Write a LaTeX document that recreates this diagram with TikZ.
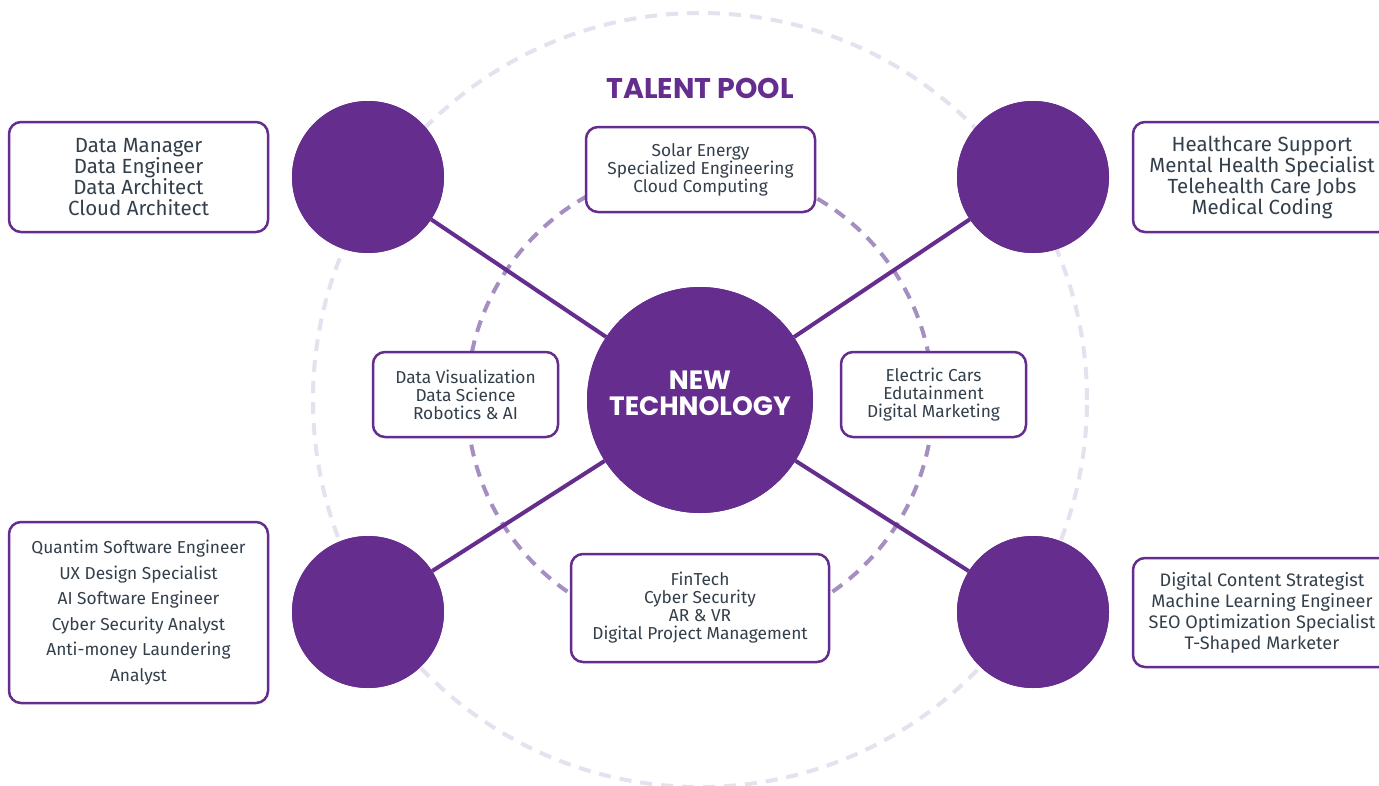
\documentclass[tikz,border=0pt]{standalone}
\usepackage{fontspec}
\setmainfont{Fira Sans}
\newfontfamily\headfont{Poppins}
\definecolor{brand}{HTML}{652D8E}
\definecolor{ringin}{HTML}{A58FC2}
\definecolor{ringout}{HTML}{E6E0EF}
\definecolor{ink}{HTML}{333F4B}
\begin{document}
\begin{tikzpicture}[x=1pt,y=-1pt,
  hub/.style={circle,fill=brand,minimum size=226pt,inner sep=0pt},
  sat/.style={circle,fill=brand,minimum size=152pt,inner sep=0pt},
  spoke/.style={draw=brand,line width=4pt},
  jobbox/.style={draw=brand,line width=2.5pt,fill=white,rounded corners=12pt,
    align=center,text=ink,inner sep=0pt},
  small/.style={font=\fontsize{17.3}{18}\selectfont},
  large/.style={font=\fontsize{20.5}{21}\selectfont},
  snug/.style={font=\fontsize{18.1}{21}\selectfont},
  roomy/.style={font=\fontsize{17.3}{25.5}\selectfont},
  ring/.style={line width=4pt,dash pattern=on 12pt off 9pt}]
\clip (0,0) rectangle (1379,785);
\fill[white] (0,0) rectangle (1379,785);
% talent pool rings
\draw[ring,ringout] (700,400) circle [radius=387pt];
\draw[ring,ringin] (700,400) circle [radius=233pt];
% hub and satellites
\node[hub] (core) at (700,400) {};
\node[sat] (tl) at (368,177) {};
\node[sat] (tr) at (1033,177) {};
\node[sat] (bl) at (368,612) {};
\node[sat] (br) at (1033,612) {};
\draw[spoke] (core) -- (tl);
\draw[spoke] (core) -- (tr);
\draw[spoke] (core) -- (bl);
\draw[spoke] (core) -- (br);
% discs above the spokes
\fill[brand] (tl) circle [radius=76pt];
\fill[brand] (tr) circle [radius=76pt];
\fill[brand] (bl) circle [radius=76pt];
\fill[brand] (br) circle [radius=76pt];
\fill[brand] (core) circle [radius=113pt];
\node[text=white,align=center,font=\headfont\bfseries\fontsize{26.5}{26}\selectfont]
  (corelabel) at (700,393) {NEW\\TECHNOLOGY};
% title
\node[text=brand,font=\headfont\bfseries\fontsize{28.5}{28}\selectfont] (title) at (700,88) {TALENT POOL};
% job boxes
\node[jobbox,large,minimum width=259pt,minimum height=110pt] (boxtl) at (138.5,177)
  {Data Manager\\Data Engineer\\Data Architect\\Cloud Architect};
\node[jobbox,large,minimum width=258pt,minimum height=110pt] (boxtr) at (1262,177)
  {Healthcare Support\\Mental Health Specialist\\Telehealth Care Jobs\\Medical Coding};
\node[jobbox,roomy,minimum width=259pt,minimum height=181pt] (boxbl) at (138.5,612.5)
  {Quantim Software Engineer\\UX Design Specialist\\AI Software Engineer\\Cyber Security Analyst\\Anti-money Laundering\\Analyst};
\node[jobbox,snug,minimum width=258pt,minimum height=109pt] (boxbr) at (1262,612.5)
  {Digital Content Strategist\\Machine Learning Engineer\\SEO Optimization Specialist\\T-Shaped Marketer};
\node[jobbox,small,minimum width=229pt,minimum height=85pt] (boxtop) at (700.5,169.5)
  {Solar Energy\\Specialized Engineering\\Cloud Computing};
\node[jobbox,small,minimum width=185pt,minimum height=85pt] (boxleft) at (465.5,394.5)
  {Data Visualization\\Data Science\\Robotics \& AI};
\node[jobbox,small,minimum width=185pt,minimum height=85pt] (boxright) at (933.5,394.5)
  {Electric Cars\\Edutainment\\Digital Marketing};
\node[jobbox,small,minimum width=258pt,minimum height=108pt] (boxbottom) at (700,608)
  {FinTech\\Cyber Security\\AR \& VR\\Digital Project Management};
\end{tikzpicture}
\end{document}
